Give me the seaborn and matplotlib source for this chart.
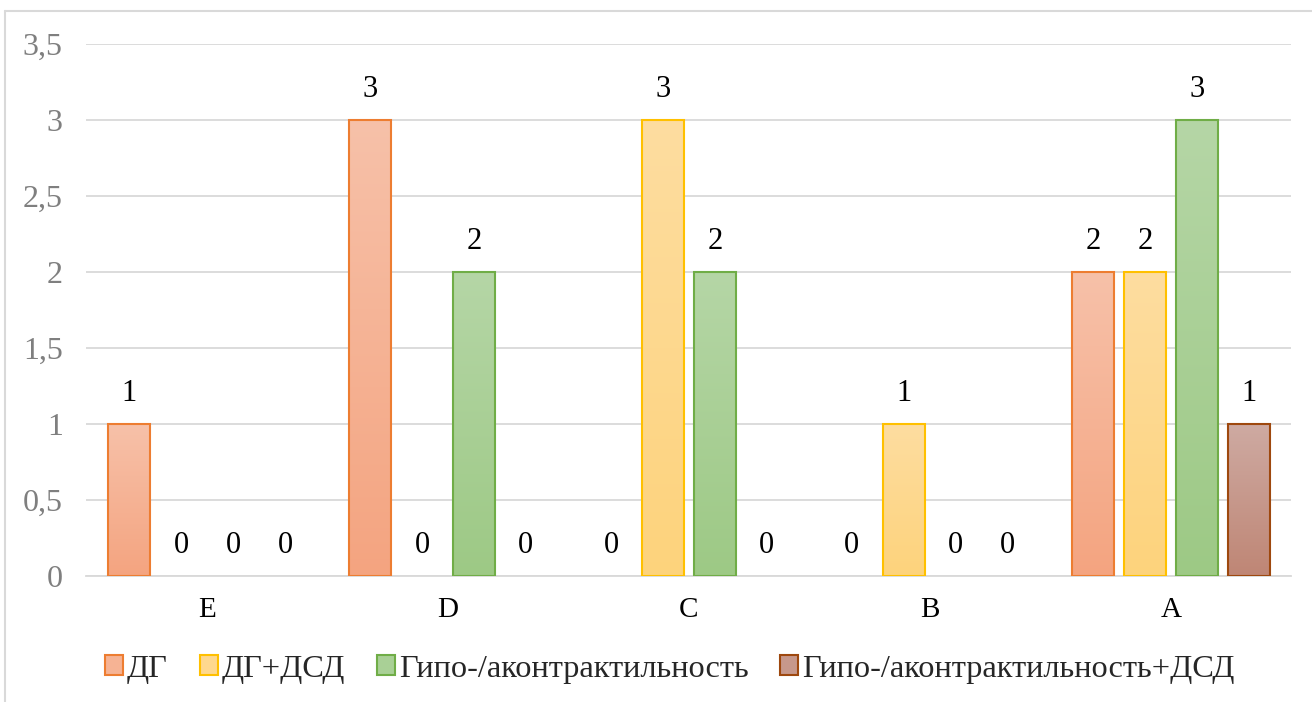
import numpy as np
import pandas as pd
import matplotlib
matplotlib.use("Agg")
import matplotlib.pyplot as plt
import seaborn as sns
from matplotlib.colors import LinearSegmentedColormap, to_rgb
from matplotlib.patches import Patch
from matplotlib.lines import Line2D
from matplotlib.ticker import FuncFormatter, MultipleLocator

# Data
categories = ["E", "D", "C", "B", "A"]
series = ["ДГ", "ДГ+ДСД", "Гипо-/аконтрактильность", "Гипо-/аконтрактильность+ДСД"]
dg = [1, 3, 0, 0, 2]
dg_dsd = [0, 0, 3, 1, 2]
hypo = [0, 2, 2, 0, 3]
hypo_dsd = [0, 0, 0, 0, 1]

# Styling: (top colour, bottom colour, edge colour) per series
top_colors = ["#F7C1A9", "#FEDDA0", "#B5D6A6", "#CEAAA2"]
bottom_colors = ["#F4A480", "#FDD37C", "#9DC985", "#BF8675"]
edge_colors = ["#ED7D31", "#FFC000", "#70AD47", "#9E480E"]

sns.set_theme(style="white")
plt.rcParams["font.family"] = ["Liberation Serif", "DejaVu Serif"]

df = pd.DataFrame({
    "category": np.repeat(categories, len(series)),
    "series": series * len(categories),
    "value": np.array([dg, dg_dsd, hypo, hypo_dsd]).T.ravel(),
})

fig = plt.figure(figsize=(13.12, 7.02), dpi=100)
ax = fig.add_axes([0.0659, 0.1795, 0.9184, 0.7578])

sns.barplot(data=df, x="category", y="value", hue="series", order=categories,
            hue_order=series, width=0.863, gap=0.19, palette=bottom_colors,
            legend=False, ax=ax, zorder=3)

ax.set_xlim(-0.5, 4.5)
ax.set_ylim(0, 3.5)

# Gradient fill for each bar
grad = np.linspace(0, 1, 256).reshape(-1, 1)
for s_idx, container in enumerate(ax.containers):
    cmap = LinearSegmentedColormap.from_list(
        f"g{s_idx}", [bottom_colors[s_idx], top_colors[s_idx]])
    for bar, val in zip(container, container.datavalues):
        x0, w, h = bar.get_x(), bar.get_width(), bar.get_height()
        bar.set_facecolor("none")
        if h > 0:
            bar.set_edgecolor(edge_colors[s_idx])
            bar.set_linewidth(1.5)
            im = ax.imshow(grad, cmap=cmap, origin="lower", aspect="auto",
                           extent=(x0, x0 + w, 0, h), zorder=2.9,
                           interpolation="bilinear")
            im.set_clip_path(bar)
        else:
            bar.set_edgecolor("none")
            bar.set_linewidth(0)
        ax.annotate(f"{int(val)}", (x0 + w / 2, h), xytext=(0, 11.5),
                    textcoords="offset points", ha="center", va="bottom",
                    fontsize=22, color="black")

ax.set_xlim(-0.5, 4.5)
ax.set_ylim(0, 3.5)

# Axes, grid and ticks
ax.yaxis.set_major_locator(MultipleLocator(0.5))
ax.yaxis.set_major_formatter(FuncFormatter(lambda v, p: f"{v:g}".replace(".", ",")))
ax.grid(axis="y", color="#D9D9D9", linewidth=1.3, zorder=0)
ax.set_axisbelow(True)
for side in ["top", "right", "left"]:
    ax.spines[side].set_visible(False)
ax.spines["bottom"].set_color("#D9D9D9")
ax.spines["bottom"].set_linewidth(1.3)
ax.tick_params(axis="y", length=0, pad=17, labelsize=23, labelcolor="#7F7F7F")
ax.tick_params(axis="x", length=0, pad=15, labelsize=21, labelcolor="black")
ax.set_xlabel("")
ax.set_ylabel("")

# Legend
handles = [Patch(facecolor=(np.array(to_rgb(t)) + np.array(to_rgb(b))) / 2,
                 edgecolor=e, linewidth=1.5, label=s)
           for t, b, e, s in zip(top_colors, bottom_colors, edge_colors, series)]
fig.legend(handles=handles, loc="center", bbox_to_anchor=(0.5105, 0.047),
           ncol=4, frameon=False, fontsize=23.3, handlelength=0.56,
           handleheight=0.56, handletextpad=0.12, columnspacing=0.98)

# Chart frame (top and left edges)
fig.add_artist(Line2D([0.004, 1.0], [0.984, 0.984], transform=fig.transFigure,
                      color="#D9D9D9", linewidth=1.5))
fig.add_artist(Line2D([0.004, 0.004], [0.0, 0.984], transform=fig.transFigure,
                      color="#D9D9D9", linewidth=1.5))

fig.savefig("out.png", dpi=100)
